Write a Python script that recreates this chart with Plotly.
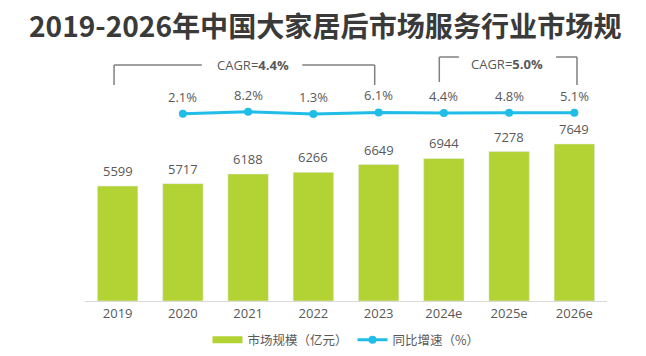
import plotly.graph_objects as go

categories = ["2019", "2020", "2021", "2022", "2023", "2024e", "2025e", "2026e"]
market_size = [5599, 5717, 6188, 6266, 6649, 6944, 7278, 7649]
growth_cats = ["2020", "2021", "2022", "2023", "2024e", "2025e", "2026e"]
growth_rate = [2.1, 8.2, 1.3, 6.1, 4.4, 4.8, 5.1]
growth_labels = ["2.1%", "8.2%", "1.3%", "6.1%", "4.4%", "4.8%", "5.1%"]
cagr_labels = ["CAGR=<b>4.4%</b>", "CAGR=<b>5.0%</b>"]

# the page body has an 8px default margin; size the figure to fit the window exactly
PAGE = 8
W, H = 646 - 2 * PAGE, 356 - 2 * PAGE
L, R, T, B = 85 - PAGE, W - (607 - PAGE), 50 - PAGE, H - (301 - PAGE)
PH = H - T - B

def py(pix):
    # page pixel y -> paper y
    return (301 - pix) / PH

xi = list(range(len(categories)))
gxi = [categories.index(c) for c in growth_cats]

BAR = "#b3d335"
LINE = "#1fbde8"
TXT = "#595959"
NUM_FONT = "Open Sans, Noto Sans CJK SC, sans-serif"
CJK_FONT = "Noto Sans CJK SC, Noto Sans, sans-serif"

fig = go.Figure()
fig.add_trace(go.Bar(
    x=xi, y=market_size, marker_color=BAR, showlegend=False,
    yaxis="y", hovertext=categories, hoverinfo="text+y",
))
# legend proxy for the bar series (flat wide swatch)
fig.add_trace(go.Scatter(
    x=[None], y=[None], mode="lines", line=dict(color=BAR, width=7),
    name="市场规模（亿元）", yaxis="y",
))
fig.add_trace(go.Scatter(
    x=gxi, y=growth_rate, mode="lines+markers", name="同比增速（%）",
    line=dict(color=LINE, width=3), marker=dict(color=LINE, size=8),
    yaxis="y2",
))

annotations = []
for x, v in zip(xi, market_size):
    annotations.append(dict(x=x, y=v, xref="x", yref="y", text=str(v), showarrow=False,
                            yanchor="middle", yshift=15,
                            font=dict(family=NUM_FONT, size=13, color=TXT)))
for x, v, t in zip(gxi, growth_rate, growth_labels):
    annotations.append(dict(x=x, y=v, xref="x", yref="y2", text=t, showarrow=False,
                            yanchor="middle", yshift=17,
                            font=dict(family=NUM_FONT, size=13, color=TXT)))

# CAGR brackets: (left x, left bottom y px, top y px, gap start x, text x, text y px, gap end x, right x, right bottom y px)
brackets = [
    (-0.055, 85, 65, 1.29, 2.08, 65, 2.83, 3.94, 85),
    (4.93, 82, 57, 5.23, 5.97, 64, 6.72, 7.04, 85),
]
shapes = []
for (xl, ylb, yt, g0, tx, ty, g1, xr, yrb), lab in zip(brackets, cagr_labels):
    ln = dict(color="#808080", width=1.5)
    shapes.append(dict(type="line", xref="x", yref="paper", x0=xl, x1=xl, y0=py(ylb), y1=py(yt), line=ln))
    shapes.append(dict(type="line", xref="x", yref="paper", x0=xl, x1=g0, y0=py(yt), y1=py(yt), line=ln))
    shapes.append(dict(type="line", xref="x", yref="paper", x0=g1, x1=xr, y0=py(yt), y1=py(yt), line=ln))
    shapes.append(dict(type="line", xref="x", yref="paper", x0=xr, x1=xr, y0=py(yt), y1=py(yrb), line=ln))
    annotations.append(dict(x=tx, y=py(ty), xref="x", yref="paper", text=lab, showarrow=False,
                            yanchor="middle", font=dict(family=NUM_FONT, size=13, color=TXT)))

# y ranges derived from pixel scale
bar_px_per_unit = 0.02053
y_max = PH / bar_px_per_unit
pct_px = 0.3333
r0 = 1.3 - (301 - 114) / pct_px
r1 = r0 + PH / pct_px

fig.update_layout(
    width=W, height=H,
    margin=dict(l=L, r=R, t=T, b=B, autoexpand=False),
    paper_bgcolor="white", plot_bgcolor="white",
    bargap=0.38,
    title=dict(text="<b>2019-2026年中国大家居后市场服务行业市场规</b>",
               x=(29 - PAGE) / W, xref="container", xanchor="left",
               y=1 - (27.5 - PAGE) / H, yref="container", yanchor="middle",
               font=dict(family=CJK_FONT, size=28.1, color="#3a3a3a")),
    xaxis=dict(range=[-0.5, len(categories) - 0.5], tickmode="array", tickvals=xi,
               ticktext=categories, showgrid=False, zeroline=False, showline=True,
               linecolor="#d9d9d9", linewidth=1, ticks="",
               tickfont=dict(family=NUM_FONT, size=13, color=TXT), fixedrange=True),
    yaxis=dict(range=[0, y_max], visible=False, showgrid=False),
    yaxis2=dict(range=[r0, r1], visible=False, overlaying="y", showgrid=False),
    legend=dict(orientation="h", x=0.5, xanchor="center", y=py(340), yanchor="middle",
                font=dict(family=CJK_FONT, size=12.5, color=TXT), itemwidth=30,
                bgcolor="rgba(0,0,0,0)"),
    shapes=shapes,
    annotations=annotations,
    showlegend=True,
)

fig.write_html("out.html")
